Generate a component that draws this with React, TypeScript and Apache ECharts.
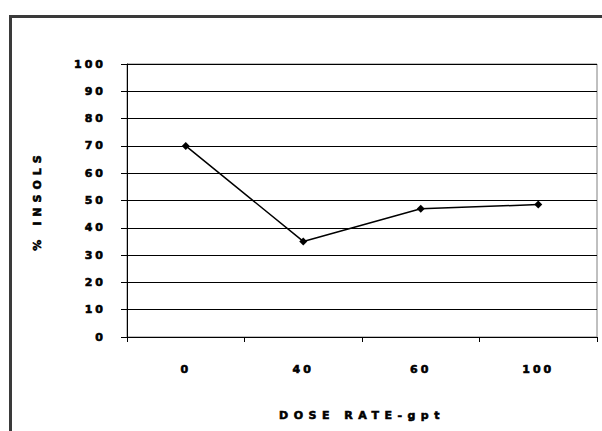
import React, { useEffect, useRef } from "react";
import * as echarts from "echarts";

const categories = ["0", "40", "60", "100"];
const insolsValues = [70, 35, 47, 48.5];
const yTicks = { min: 0, max: 100, interval: 10 };
const xTitle = "DOSE RATE-gpt";
const yTitle = "% INSOLS";

const FONT = "'DejaVu Sans', Arial, sans-serif";

export default function App() {
  const ref = useRef<HTMLDivElement>(null);
  useEffect(() => {
    if (!ref.current) return;
    const chart = echarts.init(ref.current, undefined, { renderer: "svg" });
    const labelStyle = {
      fontFamily: FONT,
      fontWeight: 900 as any,
      fontSize: 11,
      color: "#000",
      textBorderColor: "#000",
      textBorderWidth: 0.6,
    };
    chart.setOption({
      animation: false,
      backgroundColor: "#fff",
      grid: {
        left: 127,
        top: 64,
        width: 470,
        height: 273,
        show: true,
        borderColor: "#808080",
        borderWidth: 1,
        backgroundColor: "transparent",
      },
      graphic: [
        {
          type: "rect",
          shape: { x: 10.5, y: 16.5, width: 800, height: 600 },
          style: { fill: "none", stroke: "#3a3a3a", lineWidth: 3 },
          silent: true,
        },
      ],
      xAxis: {
        type: "category",
        data: categories,
        boundaryGap: true,
        name: xTitle,
        nameLocation: "middle",
        nameGap: 73,
        nameTextStyle: { ...labelStyle },
        axisLine: { lineStyle: { color: "#000", width: 1 } },
        axisTick: { show: true, length: 5, lineStyle: { color: "#000" } },
        axisLabel: { ...labelStyle, margin: 27 },
        splitLine: { show: false },
      },
      yAxis: {
        type: "value",
        min: yTicks.min,
        max: yTicks.max,
        interval: yTicks.interval,
        name: yTitle,
        nameLocation: "middle",
        nameGap: 84,
        nameTextStyle: { ...labelStyle },
        axisLine: { show: true, lineStyle: { color: "#000", width: 1 } },
        axisTick: { show: true, length: 6, lineStyle: { color: "#000" } },
        axisLabel: { ...labelStyle, margin: 21 },
        splitLine: { show: true, lineStyle: { color: "#000", width: 1 } },
      },
      series: [
        {
          type: "line",
          data: insolsValues,
          symbol: "diamond",
          symbolSize: 8,
          lineStyle: { color: "#000", width: 1.5 },
          itemStyle: { color: "#000" },
        },
      ],
    });
    const applySpacing = () => {
      const texts = ref.current?.querySelectorAll("text") || [];
      texts.forEach((t) => {
        const s = t.textContent || "";
        if (s === xTitle) (t as any).style.letterSpacing = "5.5px";
        else if (s === yTitle) (t as any).style.letterSpacing = "5px";
        else (t as any).style.letterSpacing = "3px";
      });
    };
    applySpacing();
    const id = setTimeout(applySpacing, 50);
    return () => {
      clearTimeout(id);
      chart.dispose();
    };
  }, []);
  return (
    <div
      ref={ref}
      style={{ position: "fixed", left: 0, top: 0, width: 602, height: 431 }}
    />
  );
}
